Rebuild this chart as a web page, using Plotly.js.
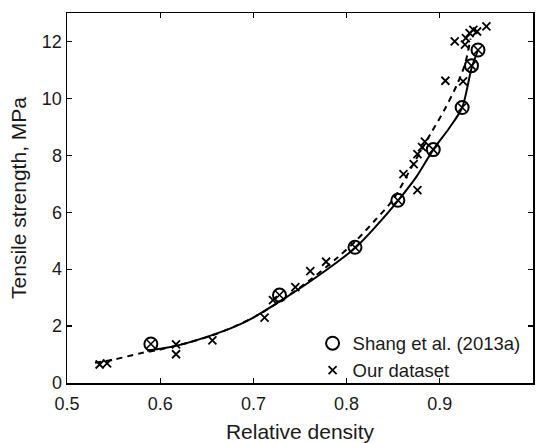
<!DOCTYPE html>
<html>
<head>
<meta charset="utf-8">
<script src="https://cdn.plot.ly/plotly-3.0.1.min.js"></script>
<style>html,body{margin:0;padding:0;background:#fff;}#chart{width:536px;height:443px;}</style>
</head>
<body>
<div id="chart"></div>
<script>
// Shang et al. (2013a)
const shangDensity = [0.590, 0.728, 0.809, 0.855, 0.893, 0.924, 0.934, 0.941];
const shangStrength = [1.37, 3.09, 4.77, 6.42, 8.20, 9.68, 11.15, 11.70];

// Our dataset
const ourDensity = [0.535, 0.543, 0.617, 0.617, 0.656, 0.712, 0.721, 0.745, 0.761, 0.778,
  0.861, 0.872, 0.876, 0.876, 0.881, 0.884, 0.906, 0.925, 0.916, 0.927, 0.928, 0.932, 0.936, 0.940, 0.950];
const ourStrength = [0.65, 0.69, 1.36, 1.01, 1.50, 2.30, 2.91, 3.37, 3.93, 4.26,
  7.34, 7.69, 8.04, 6.78, 8.29, 8.48, 10.62, 10.60, 12.00, 11.89, 12.12, 12.29, 12.41, 12.35, 12.53];

// Fitted curve (solid)
const solidDensity = [0.586, 0.600, 0.620, 0.650, 0.680, 0.700, 0.730, 0.760, 0.790, 0.810, 0.830, 0.855, 0.875, 0.893, 0.910, 0.924, 0.934, 0.941];
const solidStrength = [1.13, 1.20, 1.33, 1.62, 1.98, 2.30, 2.90, 3.55, 4.25, 4.77, 5.45, 6.40, 7.25, 8.20, 8.95, 9.68, 11.05, 11.70];

// Fitted curve (dashed)
const dashDensity = [0.530, 0.550, 0.578, 0.600, 0.630, 0.660, 0.700, 0.730, 0.760, 0.790, 0.810, 0.830, 0.850, 0.870, 0.890, 0.905, 0.918, 0.927, 0.933];
const dashStrength = [0.71, 0.82, 1.04, 1.18, 1.42, 1.72, 2.30, 2.90, 3.60, 4.40, 5.00, 5.70, 6.45, 7.60, 8.75, 9.60, 10.45, 11.20, 12.10];

const xTickVals = [0.5, 0.6, 0.7, 0.8, 0.9, 1];
const xTickText = ['0.5', '0.6', '0.7', '0.8', '0.9', '1'];
const yTickVals = [0, 2, 4, 6, 8, 10, 12];

const FONT = 'Liberation Sans, Arial, Helvetica, sans-serif';

const traces = [
  {x: solidDensity, y: solidStrength, mode: 'lines', line: {color: '#000', width: 2, shape: 'spline', smoothing: 0.8}, showlegend: false, hoverinfo: 'skip'},
  {x: dashDensity, y: dashStrength, mode: 'lines', line: {color: '#000', width: 2, dash: '6px,5px', shape: 'spline', smoothing: 0.8}, showlegend: false, hoverinfo: 'skip'},
  {x: shangDensity, y: shangStrength, mode: 'markers', name: 'Shang et al. (2013a)',
    marker: {symbol: 'circle-open', size: 13, color: '#000', line: {width: 2, color: '#000'}}},
  {x: shangDensity, y: shangStrength, mode: 'markers', showlegend: false,
    marker: {symbol: 'x-thin-open', size: 8, color: '#000', line: {width: 1.6, color: '#000'}}},
  {x: ourDensity, y: ourStrength, mode: 'markers', name: 'Our dataset',
    marker: {symbol: 'x-thin-open', size: 8, color: '#000', line: {width: 1.8, color: '#000'}}}
];

const axisCommon = {
  showgrid: false, zeroline: false, showline: true, linecolor: '#000', linewidth: 1.5,
  mirror: 'ticks', ticks: 'inside', ticklen: 5, tickwidth: 1.2, tickcolor: '#000',
  tickfont: {family: FONT, size: 18, color: '#1a1a1a'}, automargin: false
};

const layout = {
  width: 536, height: 443,
  margin: {l: 67, r: 3, t: 13, b: 60},
  paper_bgcolor: '#fff', plot_bgcolor: '#fff',
  font: {family: FONT, color: '#1a1a1a'},
  xaxis: Object.assign({}, axisCommon, {
    range: [0.5, 1], tickvals: xTickVals, ticktext: xTickText, ticklabelstandoff: 4,
    title: {text: 'Relative density', font: {family: FONT, size: 21, color: '#1a1a1a'}, standoff: 12}
  }),
  yaxis: Object.assign({}, axisCommon, {
    range: [0, 13], tickvals: yTickVals,
    title: {text: 'Tensile strength, MPa', font: {family: FONT, size: 21, color: '#1a1a1a'}, standoff: 9}
  }),
  legend: {
    x: 0.527, y: -0.018, xanchor: 'left', yanchor: 'bottom',
    bgcolor: 'rgba(0,0,0,0)', borderwidth: 0,
    font: {family: FONT, size: 18.5, color: '#1a1a1a'},
    tracegroupgap: 0
  },
  showlegend: true
};

Plotly.newPlot('chart', traces, layout, {displayModeBar: false, staticPlot: true});
</script>
</body>
</html>
